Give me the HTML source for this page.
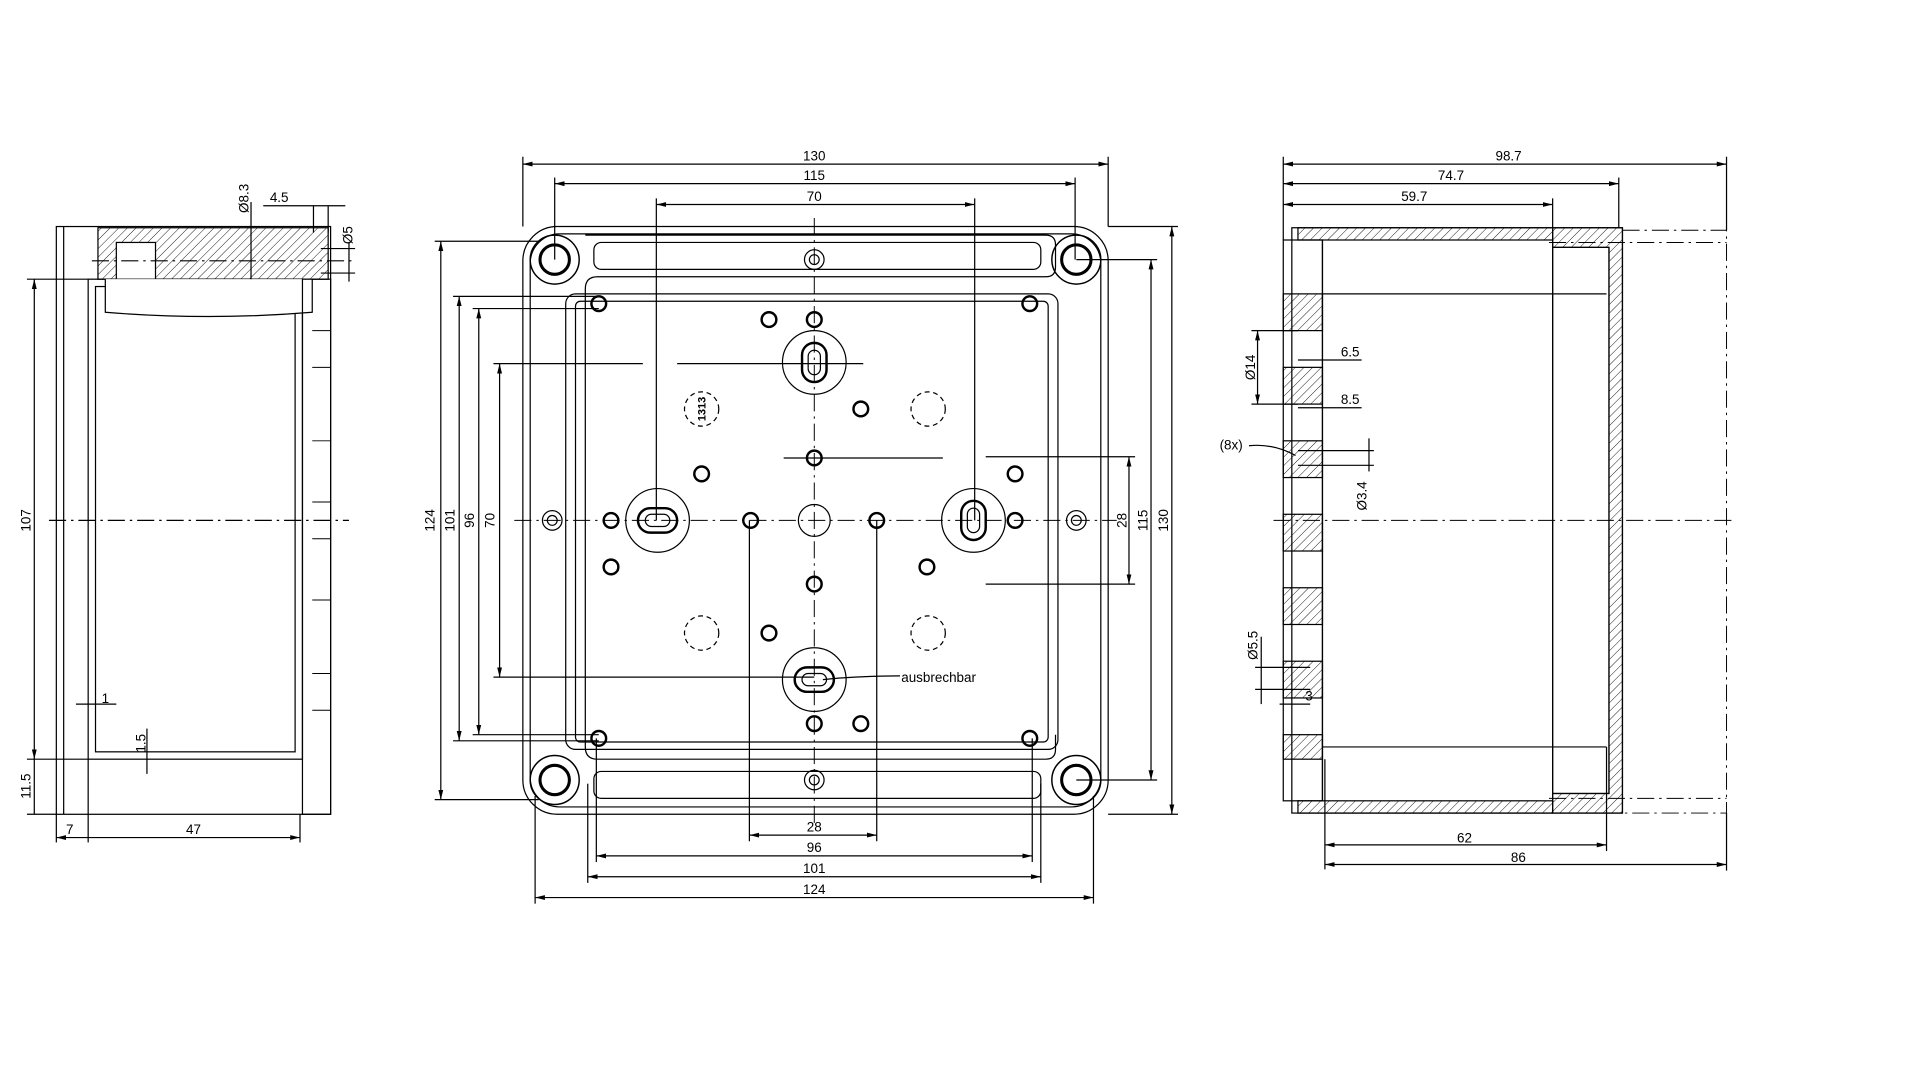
<!DOCTYPE html>
<html><head><meta charset="utf-8"><style>
html,body{margin:0;padding:0;background:#fff;width:1920px;height:1080px;overflow:hidden}
svg{display:block}
text{font-family:"Liberation Sans",sans-serif;font-size:11px;fill:#000}
</style></head><body>
<svg width="1920" height="1080" viewBox="0 0 1568 882" xmlns="http://www.w3.org/2000/svg">
<defs>
<pattern id="h" width="5" height="5" patternUnits="userSpaceOnUse" patternTransform="rotate(45)"><line x1="0" y1="0" x2="0" y2="5" stroke="#000" stroke-width="0.7"/></pattern>
<marker id="a" markerWidth="8" markerHeight="6" refX="8" refY="3" orient="auto-start-reverse"><path d="M0,1 L8,3 L0,5" fill="#000"/></marker>
</defs>
<g fill="none" stroke="#000" stroke-width="1">
<!-- LEFT VIEW -->
<rect x="46" y="185" width="224" height="480"/>
<line x1="52" y1="185" x2="52" y2="665"/>
<rect x="72" y="228" width="175" height="392"/>
<rect x="78" y="234" width="163" height="380"/>
<rect x="80" y="186" width="188" height="42" fill="url(#h)"/>
<rect x="95" y="198" width="32" height="30" fill="#fff"/>
<path d="M86,228 L86,255 Q170,262 255,255 L255,228" fill="#fff"/>
<rect x="247" y="228" width="23" height="437"/>
<g stroke-width="0.8">
<line x1="255" y1="270" x2="270" y2="270"/><line x1="255" y1="300" x2="270" y2="300"/><line x1="255" y1="360" x2="270" y2="360"/><line x1="255" y1="410" x2="270" y2="410"/><line x1="255" y1="440" x2="270" y2="440"/><line x1="255" y1="490" x2="270" y2="490"/><line x1="255" y1="550" x2="270" y2="550"/><line x1="255" y1="580" x2="270" y2="580"/>
</g>
<line x1="40" y1="425" x2="285" y2="425" stroke-dasharray="14,4,2,4"/>
<line x1="75" y1="213" x2="290" y2="213" stroke-dasharray="14,4,2,4"/>
<!-- left dims -->
<line x1="28" y1="228" x2="28" y2="620" marker-start="url(#a)" marker-end="url(#a)"/>
<line x1="22" y1="228" x2="72" y2="228"/><line x1="22" y1="620" x2="72" y2="620"/>
<line x1="28" y1="620" x2="28" y2="665"/><line x1="22" y1="665" x2="46" y2="665"/>
<line x1="46" y1="665" x2="46" y2="688"/><line x1="72" y1="620" x2="72" y2="688"/><line x1="245" y1="665" x2="245" y2="688"/>
<line x1="46" y1="684" x2="245" y2="684" marker-start="url(#a)" marker-end="url(#a)"/>
<line x1="62" y1="575" x2="95" y2="575"/><line x1="120" y1="595" x2="120" y2="632"/>
<line x1="205" y1="165" x2="205" y2="228"/><line x1="256" y1="168" x2="256" y2="190"/><line x1="268" y1="168" x2="268" y2="190"/>
<line x1="215" y1="168" x2="282" y2="168"/>
<line x1="285" y1="198" x2="285" y2="230"/><line x1="262" y1="203" x2="290" y2="203"/><line x1="262" y1="223" x2="290" y2="223"/>

<!-- MIDDLE VIEW -->
<rect x="427" y="185" width="478" height="480" rx="28"/>
<rect x="433" y="191" width="466" height="468" rx="24"/>
<path d="M478,192 H854 Q862,192 862,200 V218 Q862,226 854,226 H488 Q478,226 478,236 V610 Q478,620 488,620 H854 Q862,620 862,612 V600"/>
<rect x="485" y="198" width="365" height="22" rx="6"/>
<rect x="462" y="240" width="402" height="372" rx="8"/>
<rect x="470" y="246" width="386" height="360" rx="4"/>
<rect x="485" y="630" width="365" height="22" rx="6"/>
<g stroke-width="1.2">
<circle cx="453" cy="212" r="20"/><circle cx="453" cy="212" r="12" stroke-width="2.5"/>
<circle cx="879" cy="212" r="20"/><circle cx="879" cy="212" r="12" stroke-width="2.5"/>
<circle cx="453" cy="637" r="20"/><circle cx="453" cy="637" r="12" stroke-width="2.5"/>
<circle cx="879" cy="637" r="20"/><circle cx="879" cy="637" r="12" stroke-width="2.5"/>
</g>
<g>
<circle cx="665" cy="212" r="8"/><circle cx="665" cy="212" r="4"/>
<circle cx="665" cy="637" r="8"/><circle cx="665" cy="637" r="4"/>
<circle cx="451" cy="425" r="8"/><circle cx="451" cy="425" r="4"/>
<circle cx="879" cy="425" r="8"/><circle cx="879" cy="425" r="4"/>
<circle cx="665" cy="425" r="13"/>
</g>
<g stroke-width="2">
<circle cx="489" cy="248" r="6"/><circle cx="628" cy="261" r="6"/><circle cx="665" cy="261" r="6"/><circle cx="841" cy="248" r="6"/>
<circle cx="703" cy="334" r="6"/><circle cx="573" cy="387" r="6"/><circle cx="665" cy="374" r="6"/><circle cx="829" cy="387" r="6"/>
<circle cx="499" cy="425" r="6"/><circle cx="613" cy="425" r="6"/><circle cx="716" cy="425" r="6"/><circle cx="829" cy="425" r="6"/>
<circle cx="499" cy="463" r="6"/><circle cx="757" cy="463" r="6"/><circle cx="665" cy="477" r="6"/><circle cx="628" cy="517" r="6"/>
<circle cx="665" cy="591" r="6"/><circle cx="703" cy="591" r="6"/><circle cx="489" cy="603" r="6"/><circle cx="841" cy="603" r="6"/>
</g>
<g stroke-dasharray="4,3">
<circle cx="758" cy="334" r="14"/><circle cx="573" cy="517" r="14"/><circle cx="758" cy="517" r="14"/>
</g>
<circle cx="573" cy="334" r="14" stroke-dasharray="4,3"/>
<g>
<circle cx="665" cy="296" r="26"/><rect x="655" y="280" width="20" height="32" rx="10" stroke-width="2"/><rect x="660" y="286" width="10" height="20" rx="5"/>
<circle cx="537" cy="425" r="26"/><rect x="521" y="415" width="32" height="20" rx="10" stroke-width="2"/><rect x="527" y="420" width="20" height="10" rx="5"/>
<circle cx="795" cy="425" r="26"/><rect x="785" y="409" width="20" height="32" rx="10" stroke-width="2"/><rect x="790" y="415" width="10" height="20" rx="5"/>
<circle cx="665" cy="555" r="26"/><rect x="649" y="545" width="32" height="20" rx="10" stroke-width="2"/><rect x="655" y="550" width="20" height="10" rx="5"/>
</g>
<g stroke-dasharray="14,4,2,4" stroke-width="0.8">
<line x1="420" y1="425" x2="912" y2="425"/><line x1="665" y1="178" x2="665" y2="672"/>
</g>
<!-- middle dims -->
<line x1="427" y1="134" x2="905" y2="134" marker-start="url(#a)" marker-end="url(#a)"/>
<line x1="427" y1="128" x2="427" y2="185"/><line x1="905" y1="128" x2="905" y2="185"/>
<line x1="453" y1="150" x2="878" y2="150" marker-start="url(#a)" marker-end="url(#a)"/>
<line x1="453" y1="145" x2="453" y2="212"/><line x1="878" y1="145" x2="878" y2="212"/>
<line x1="536" y1="167" x2="796" y2="167" marker-start="url(#a)" marker-end="url(#a)"/>
<line x1="536" y1="162" x2="536" y2="425"/><line x1="796" y1="162" x2="796" y2="425"/>
<line x1="957" y1="185" x2="957" y2="665" marker-start="url(#a)" marker-end="url(#a)"/>
<line x1="905" y1="185" x2="962" y2="185"/><line x1="905" y1="665" x2="962" y2="665"/>
<line x1="940" y1="212" x2="940" y2="637" marker-start="url(#a)" marker-end="url(#a)"/>
<line x1="879" y1="212" x2="945" y2="212"/><line x1="879" y1="637" x2="945" y2="637"/>
<line x1="922" y1="373" x2="922" y2="477" marker-start="url(#a)" marker-end="url(#a)"/>
<line x1="805" y1="373" x2="927" y2="373"/><line x1="805" y1="477" x2="927" y2="477"/>
<line x1="360" y1="197" x2="360" y2="653" marker-start="url(#a)" marker-end="url(#a)"/>
<line x1="355" y1="197" x2="440" y2="197"/><line x1="355" y1="653" x2="440" y2="653"/>
<line x1="375" y1="242" x2="375" y2="605" marker-start="url(#a)" marker-end="url(#a)"/>
<line x1="370" y1="242" x2="489" y2="242"/><line x1="370" y1="605" x2="489" y2="605"/>
<line x1="391" y1="252" x2="391" y2="600" marker-start="url(#a)" marker-end="url(#a)"/>
<line x1="386" y1="252" x2="489" y2="252"/><line x1="386" y1="600" x2="489" y2="600"/>
<line x1="408" y1="297" x2="408" y2="553" marker-start="url(#a)" marker-end="url(#a)"/>
<line x1="403" y1="297" x2="525" y2="297"/><line x1="403" y1="553" x2="665" y2="553"/>
<line x1="553" y1="297" x2="705" y2="297"/><line x1="640" y1="374" x2="770" y2="374"/>
<line x1="612" y1="682" x2="716" y2="682" marker-start="url(#a)" marker-end="url(#a)"/>
<line x1="612" y1="425" x2="612" y2="687"/><line x1="716" y1="425" x2="716" y2="687"/>
<line x1="487" y1="699" x2="843" y2="699" marker-start="url(#a)" marker-end="url(#a)"/>
<line x1="487" y1="603" x2="487" y2="704"/><line x1="843" y1="603" x2="843" y2="704"/>
<line x1="480" y1="716" x2="850" y2="716" marker-start="url(#a)" marker-end="url(#a)"/>
<line x1="480" y1="640" x2="480" y2="721"/><line x1="850" y1="640" x2="850" y2="721"/>
<line x1="437" y1="733" x2="893" y2="733" marker-start="url(#a)" marker-end="url(#a)"/>
<line x1="437" y1="650" x2="437" y2="738"/><line x1="893" y1="650" x2="893" y2="738"/>
<path d="M672,555 Q700,552 735,552"/>

<!-- RIGHT VIEW -->
<rect x="1055" y="186" width="270" height="478"/>
<rect x="1060" y="186" width="208" height="10" fill="url(#h)"/>
<rect x="1060" y="654" width="208" height="10" fill="url(#h)"/>
<rect x="1268" y="186" width="57" height="478" fill="url(#h)"/>
<rect x="1268" y="202" width="46" height="446" fill="#fff"/>
<path d="M1268,202 L1314,202 L1314,648 L1268,648" />
<line x1="1080" y1="240" x2="1312" y2="240"/><line x1="1080" y1="610" x2="1312" y2="610"/>
<line x1="1268" y1="196" x2="1268" y2="654"/>
<line x1="1080" y1="196" x2="1080" y2="654"/>
<rect x="1048" y="196" width="32" height="458"/>
<g fill="url(#h)">
<rect x="1048" y="240" width="32" height="30"/><rect x="1048" y="300" width="32" height="30"/>
<rect x="1048" y="360" width="32" height="30"/><rect x="1048" y="420" width="32" height="30"/>
<rect x="1048" y="480" width="32" height="30"/><rect x="1048" y="540" width="32" height="30"/>
<rect x="1048" y="600" width="32" height="20"/>
</g>
<g stroke-dasharray="14,4,2,4" stroke-width="0.8">
<path d="M1325,188 H1410 V664 H1325"/>
<line x1="1040" y1="425" x2="1415" y2="425"/>
<line x1="1265" y1="198" x2="1410" y2="198"/><line x1="1265" y1="652" x2="1410" y2="652"/>
</g>
<!-- right dims -->
<line x1="1048" y1="134" x2="1410" y2="134" marker-start="url(#a)" marker-end="url(#a)"/>
<line x1="1048" y1="128" x2="1048" y2="196"/><line x1="1410" y1="128" x2="1410" y2="188"/>
<line x1="1048" y1="150" x2="1322" y2="150" marker-start="url(#a)" marker-end="url(#a)"/>
<line x1="1322" y1="145" x2="1322" y2="186"/>
<line x1="1048" y1="167" x2="1268" y2="167" marker-start="url(#a)" marker-end="url(#a)"/>
<line x1="1268" y1="162" x2="1268" y2="186"/>
<line x1="1082" y1="690" x2="1312" y2="690" marker-start="url(#a)" marker-end="url(#a)"/>
<line x1="1082" y1="620" x2="1082" y2="710"/><line x1="1312" y1="610" x2="1312" y2="695"/>
<line x1="1082" y1="706" x2="1410" y2="706" marker-start="url(#a)" marker-end="url(#a)"/>
<line x1="1410" y1="664" x2="1410" y2="711"/>
<line x1="1027" y1="270" x2="1027" y2="330" marker-start="url(#a)" marker-end="url(#a)"/>
<line x1="1022" y1="270" x2="1060" y2="270"/><line x1="1022" y1="330" x2="1060" y2="330"/>
<line x1="1060" y1="294" x2="1112" y2="294"/><line x1="1060" y1="333" x2="1112" y2="333"/>
<line x1="1118" y1="358" x2="1118" y2="385"/><line x1="1060" y1="368" x2="1122" y2="368"/><line x1="1060" y1="380" x2="1122" y2="380"/>
<path d="M1020,364 Q1040,362 1058,372"/>
<line x1="1030" y1="520" x2="1030" y2="575"/><line x1="1025" y1="545" x2="1070" y2="545"/><line x1="1025" y1="563" x2="1070" y2="563"/>
<line x1="1045" y1="575" x2="1070" y2="575"/>
</g>
<!-- text -->
<text x="665" y="131" text-anchor="middle">130</text>
<text x="665" y="147" text-anchor="middle">115</text>
<text x="665" y="164" text-anchor="middle">70</text>
<text x="665" y="679" text-anchor="middle">28</text>
<text x="665" y="696" text-anchor="middle">96</text>
<text x="665" y="713" text-anchor="middle">101</text>
<text x="665" y="730" text-anchor="middle">124</text>
<text x="736" y="557">ausbrechbar</text>
<text transform="translate(355,425) rotate(-90)" text-anchor="middle">124</text>
<text transform="translate(371,425) rotate(-90)" text-anchor="middle">101</text>
<text transform="translate(387,425) rotate(-90)" text-anchor="middle">96</text>
<text transform="translate(404,425) rotate(-90)" text-anchor="middle">70</text>
<text transform="translate(920,425) rotate(-90)" text-anchor="middle">28</text>
<text transform="translate(937,425) rotate(-90)" text-anchor="middle">115</text>
<text transform="translate(954,425) rotate(-90)" text-anchor="middle">130</text>
<text transform="translate(576,334) rotate(-90)" text-anchor="middle" style="font-size:9px;font-weight:bold">1313</text>
<text transform="translate(25,425) rotate(-90)" text-anchor="middle">107</text>
<text transform="translate(25,642) rotate(-90)" text-anchor="middle">11.5</text>
<text x="57" y="681" text-anchor="middle">7</text>
<text x="158" y="681" text-anchor="middle">47</text>
<text x="83" y="574">1</text>
<text transform="translate(119,607) rotate(-90)" text-anchor="middle">1.5</text>
<text transform="translate(203,162) rotate(-90)" text-anchor="middle">Ø8.3</text>
<text x="228" y="165" text-anchor="middle">4.5</text>
<text transform="translate(288,192) rotate(-90)" text-anchor="middle">Ø5</text>
<text x="1232" y="131" text-anchor="middle">98.7</text>
<text x="1185" y="147" text-anchor="middle">74.7</text>
<text x="1155" y="164" text-anchor="middle">59.7</text>
<text x="1196" y="688" text-anchor="middle">62</text>
<text x="1240" y="704" text-anchor="middle">86</text>
<text x="1095" y="291">6.5</text>
<text x="1095" y="330">8.5</text>
<text x="996" y="367">(8x)</text>
<text x="1066" y="572">3</text>
<text transform="translate(1025,300) rotate(-90)" text-anchor="middle">Ø14</text>
<text transform="translate(1116,405) rotate(-90)" text-anchor="middle">Ø3.4</text>
<text transform="translate(1027,527) rotate(-90)" text-anchor="middle">Ø5.5</text>
</svg>
</body></html>
